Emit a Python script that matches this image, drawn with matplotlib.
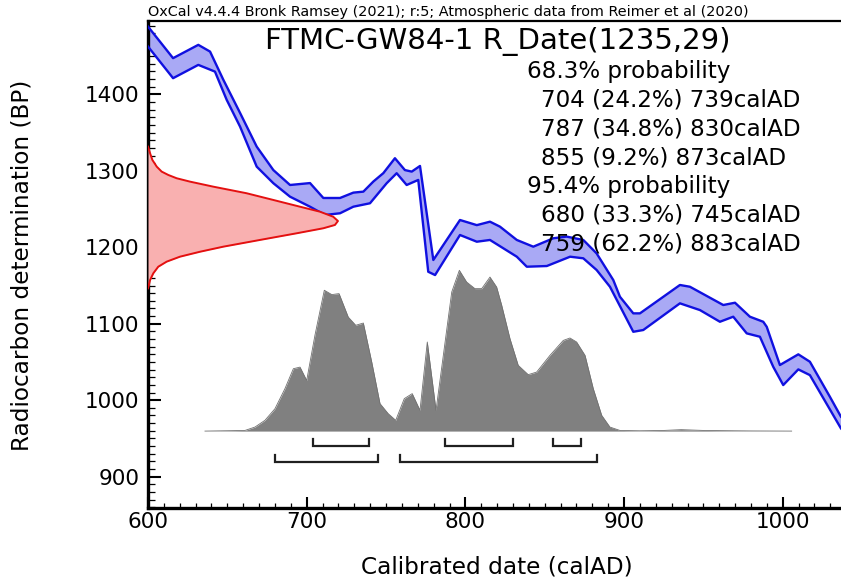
import matplotlib
matplotlib.use('Agg')
import matplotlib.pyplot as plt
import numpy as np
from matplotlib.ticker import MultipleLocator

# calibration curve (IntCal20), upper and lower edge of the band
curve_upper_year = [600, 615.8, 631.7, 639.1, 647.5, 658, 668.5, 679, 689.5, 702.1, 710.5, 721, 729.4,
                    735.7, 742, 748.3, 755.6, 761.9, 766.2, 771.4, 779.8, 796.6, 807.2, 815.5, 821.8,
                    832.4, 842.8, 855.4, 863.8, 874.3, 882.7, 893.2, 897.4, 905.8, 910, 935.2, 941.5,
                    962.5, 969.9, 979.3, 987.7, 989.9, 998.2, 1009.8, 1017.1, 1029.7, 1036.7, 1045]
curve_upper_bp = [1488.7, 1447.4, 1464.8, 1456, 1419, 1375.8, 1331.7, 1301, 1281.5, 1284, 1264.5, 1264.5,
                  1271.5, 1272.8, 1286, 1297, 1316.5, 1301, 1299, 1306.4, 1183.4, 1235.7, 1229, 1233.5,
                  1227, 1209.6, 1200.8, 1211.8, 1214, 1209.6, 1192, 1157.2, 1135.3, 1113.6, 1113.6,
                  1150.7, 1148.4, 1124.5, 1127.5, 1109.2, 1102.6, 1096, 1046, 1060, 1050.3, 1004.5,
                  978.3, 962]
curve_lower_year = [600, 615.8, 631.7, 642.2, 649.6, 658, 668.5, 679, 689.5, 702.1, 711.5, 721, 729.4,
                    739.9, 750.4, 756.7, 763, 770.3, 776.6, 780.9, 796.6, 807.2, 815.5, 832.4, 838.7,
                    851.3, 866, 874.3, 882.7, 891.1, 905.8, 912.1, 935.2, 947.8, 960.4, 968.8, 977.3,
                    985.6, 994, 1000.3, 1009.8, 1017.1, 1036.7, 1045]
curve_lower_bp = [1462.6, 1421.2, 1438.6, 1429.8, 1392.8, 1357.9, 1305.5, 1283.8, 1266.2, 1253.1, 1242.3,
                  1244.5, 1253.1, 1257.6, 1283.8, 1296.9, 1281.5, 1288.1, 1168, 1163.7, 1216.1, 1207.3,
                  1209.6, 1187.7, 1174.6, 1175.5, 1187.7, 1185.6, 1170.3, 1148.4, 1089.5, 1091.8,
                  1126.7, 1117.9, 1102.6, 1109.2, 1087.4, 1083, 1043.7, 1019.8, 1040.3, 1032.8, 963, 945]

# radiocarbon measurement 1235 +/- 29 BP (relative probability)
date_bp = [1331.7, 1323, 1314.3, 1305.5, 1299, 1294.6, 1290.3, 1285.9, 1279.3, 1270.7, 1261.9, 1253.1,
           1246.6, 1240, 1234.4, 1229.2, 1224.9, 1218.3, 1209.6, 1200.8, 1194.2, 1187.7, 1181.2,
           1174.6, 1166, 1157.2, 1146.3]
date_prob = [0, 0.011, 0.023, 0.046, 0.072, 0.107, 0.151, 0.221, 0.344, 0.519, 0.66, 0.8, 0.905, 0.975,
             1.0, 0.984, 0.923, 0.782, 0.589, 0.396, 0.274, 0.168, 0.098, 0.054, 0.028, 0.011, 0]

# calibrated distribution (relative probability)
cal_year = [635.9, 661.1, 667.4, 673.7, 680, 686.3, 691.6, 695.8, 700, 705.2, 711.1, 715.8, 720.4,
            726.2, 730.9, 735.7, 741, 746.2, 751.4, 756.1, 761.5, 766.5, 771.4, 776, 781.5, 786.1,
            791.4, 796.2, 800.8, 806, 810.3, 815.5, 819.7, 822.9, 828.1, 833.3, 839.6, 844.9, 853.3,
            861.7, 865.9, 870.1, 875.4, 880.6, 885.9, 891.1, 897.4, 910, 925, 936, 950, 980, 1005.6]
cal_prob = [0, 0.004, 0.025, 0.067, 0.139, 0.264, 0.388, 0.398, 0.315, 0.596, 0.876, 0.849, 0.855,
            0.709, 0.658, 0.672, 0.429, 0.171, 0.108, 0.067, 0.202, 0.233, 0.129, 0.554, 0.129, 0.471,
            0.865, 1.0, 0.927, 0.886, 0.886, 0.958, 0.896, 0.782, 0.575, 0.409, 0.351, 0.367, 0.471,
            0.564, 0.579, 0.554, 0.471, 0.264, 0.098, 0.025, 0.004, 0.002, 0.004, 0.009, 0.004, 0.001, 0]

# highest probability ranges
ranges_68 = [(704, 739), (787, 830), (855, 873)]
ranges_95 = [(680, 745), (759, 883)]

header = 'OxCal v4.4.4 Bronk Ramsey (2021); r:5; Atmospheric data from Reimer et al (2020)'
title = 'FTMC-GW84-1 R_Date(1235,29)'
summary_lines = [
    ('68.3% probability', False),
    ('704 (24.2%) 739calAD', True),
    ('787 (34.8%) 830calAD', True),
    ('855 (9.2%) 873calAD', True),
    ('95.4% probability', False),
    ('680 (33.3%) 745calAD', True),
    ('759 (62.2%) 883calAD', True),
]


def draw_curve(ax):
    poly_x = np.r_[curve_upper_year, curve_lower_year[::-1]]
    poly_y = np.r_[curve_upper_bp, curve_lower_bp[::-1]]
    ax.fill(poly_x, poly_y, color='#a9a9f5', lw=0, zorder=2)
    ax.plot(curve_upper_year, curve_upper_bp, color='#1010e0', lw=1.7, zorder=3)
    ax.plot(curve_lower_year, curve_lower_bp, color='#1010e0', lw=1.7, zorder=3)


def draw_date(ax, x0, scale):
    x = x0 + np.array(date_prob) * scale
    ax.fill_betweenx(date_bp, x0, x, color='#f9b0b0', lw=0, zorder=4)
    ax.plot(x, date_bp, color='#e41010', lw=1.4, zorder=5)


def draw_calibrated(ax, base, scale):
    y = base + np.array(cal_prob) * scale
    ax.fill_between(cal_year, base, y, color='#808080', lw=0, zorder=1)
    ax.plot(cal_year, y, color='#707070', lw=0.6, zorder=1)


def draw_ranges(ax, ranges, y, tick):
    for a, b in ranges:
        ax.plot([a, a, b, b], [y + tick, y, y, y + tick], color='#202020', lw=1.6,
                solid_joinstyle='miter', zorder=3)


def main():
    fig = plt.figure(figsize=(8.41, 5.83), dpi=100)
    ax = fig.add_axes([148 / 841, 75 / 583, 1 - 148 / 841, 487 / 583])

    draw_curve(ax)
    draw_date(ax, 600, 119.7)
    draw_calibrated(ax, 959.6, 210.3)
    draw_ranges(ax, ranges_68, 940, 9)
    draw_ranges(ax, ranges_95, 919.5, 9)

    ax.set_xlim(600, 1036.7)
    ax.set_ylim(859, 1496)

    ax.xaxis.set_major_locator(MultipleLocator(100))
    ax.xaxis.set_minor_locator(MultipleLocator(10))
    ax.yaxis.set_major_locator(MultipleLocator(100))
    ax.yaxis.set_minor_locator(MultipleLocator(10))
    ax.tick_params(which='both', direction='in', top=False, right=False, labelsize=15.5)
    ax.tick_params(axis='x', which='major', length=8, width=1.5, pad=3)
    ax.tick_params(axis='x', which='minor', length=3.5, width=0.9)
    ax.tick_params(axis='y', which='major', length=9, width=1.5, pad=6)
    ax.tick_params(axis='y', which='minor', length=5, width=0.9)

    ax.spines['right'].set_visible(False)
    ax.spines['left'].set_linewidth(2.4)
    ax.spines['bottom'].set_linewidth(2.4)
    ax.spines['top'].set_linewidth(1.6)

    fig.text(148 / 841, 1 - 12 / 583, header, fontsize=10.4, ha='left', va='center')
    ax.text(0.504, 0.957, title, fontsize=21, ha='center', va='center', transform=ax.transAxes)

    y = 0.897
    for line, indent in summary_lines:
        x = 0.567 if indent else 0.547
        ax.text(x, y, line, fontsize=16.6, ha='left', va='center', transform=ax.transAxes, zorder=6)
        y -= 0.0592

    fig.text(22 / 841, 1 - 265 / 583, 'Radiocarbon determination (BP)', fontsize=16.7,
             rotation=90, ha='center', va='center')
    fig.text(497 / 841, 1 - 567 / 583, 'Calibrated date (calAD)', fontsize=16.7,
             ha='center', va='center')

    fig.savefig('out.png', dpi=100)


if __name__ == '__main__':
    main()
